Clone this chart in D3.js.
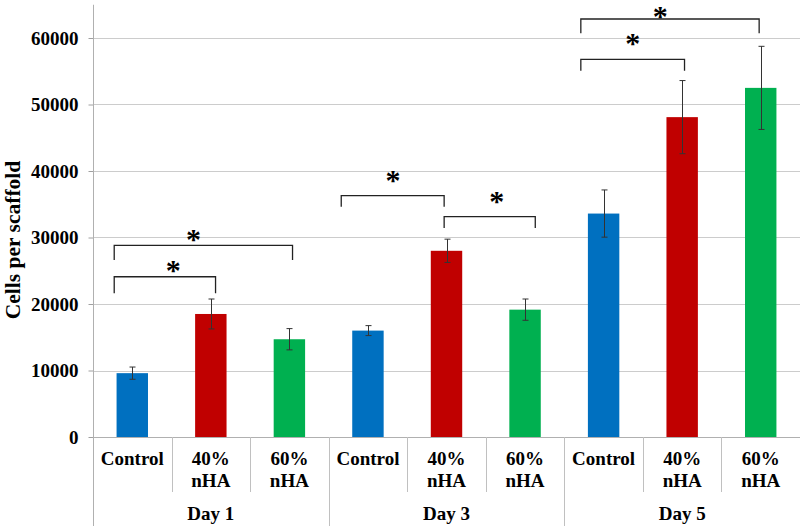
<!DOCTYPE html>
<html><head><meta charset="utf-8">
<script src="https://cdn.jsdelivr.net/npm/d3@7"></script>
<style>
html,body{margin:0;padding:0;background:#fff;}
svg{display:block;}
</style></head>
<body>
<svg id="chart" width="800" height="526"></svg>
<script>
// ---- data ----
const groups = ["Day 1", "Day 3", "Day 5"];
const treatments = ["Control", "40%\nnHA", "60%\nnHA"];
const colors = ["#0070C0", "#C00000", "#00B050"];
const values = [9600, 18500, 14700, 16000, 28000, 19150, 33600, 48100, 52500];
const errors = [920, 2250, 1600, 750, 1750, 1600, 3550, 5500, 6250];
const yTicks = [0, 10000, 20000, 30000, 40000, 50000, 60000];
// significance brackets: positions in category units (0..9) and values in cells
const bracketFrom = [0.27, 0.27, 3.16, 4.47, 6.21, 6.21];
const bracketTo   = [1.56, 2.54, 4.47, 5.63, 7.53, 8.48];
const bracketTop  = [24100, 28830, 36290, 33130, 56800, 62860];
const bracketLeg  = [21600, 26620, 34630, 31430, 55080, 60700];
const starX       = [1.02, 1.28, 3.82, 5.14, 6.87, 7.22];
const starY       = [25860, 30530, 39400, 36290, 60000, 64000];

// ---- layout ----
const FONT = "'Liberation Serif', Tinos, 'Times New Roman', Times, 'DejaVu Serif', 'Noto Serif', serif";
const svg = d3.select("#chart");
const mLeft = 93, mRight = 800, mBottom = 437, mTop = 4.75;
const n = values.length;
const bars = d3.range(n).map(i => ({i, v: values[i], e: errors[i], g: Math.floor(i / 3), t: i % 3}));

const x = d3.scaleBand().domain(d3.range(n)).range([mLeft, mRight]).paddingInner(0.6).paddingOuter(0.3);
const xp = d3.scaleLinear().domain([0, n]).range([mLeft, mRight]);
const y = d3.scaleLinear().domain([0, 65000]).range([mBottom, mTop]);

function label(sel) {
  return sel.attr("font-family", FONT).attr("font-weight", "bold").attr("fill", "#000");
}

// gridlines
svg.append("g").selectAll("line").data(yTicks.filter(d => d > 0)).join("line")
  .attr("x1", mLeft).attr("x2", mRight)
  .attr("y1", d => Math.round(y(d)) + 0.5).attr("y2", d => Math.round(y(d)) + 0.5)
  .attr("stroke", "#cccccc").attr("stroke-width", 1);

// y axis
const yAxis = d3.axisLeft(y).tickValues(yTicks).tickSize(5).tickPadding(10).tickFormat(d3.format("d"));
const ga = svg.append("g").attr("transform", `translate(${mLeft + 0.5},0)`).call(yAxis);
ga.attr("font-family", FONT).attr("font-size", 19).attr("font-weight", "bold");
ga.select(".domain").remove();
ga.selectAll(".tick line").attr("stroke", "#a0a0a0");
ga.selectAll(".tick text").attr("fill", "#000").attr("dy", "0.34em");
// vertical axis line (extends to bottom)
svg.append("line").attr("x1", mLeft + 0.5).attr("x2", mLeft + 0.5).attr("y1", mTop).attr("y2", 526)
  .attr("stroke", "#b0b0b0");
// baseline
svg.append("line").attr("x1", mLeft).attr("x2", mRight).attr("y1", mBottom + 0.5).attr("y2", mBottom + 0.5)
  .attr("stroke", "#b0b0b0");

// category separators
svg.append("g").selectAll("line").data(d3.range(1, n)).join("line")
  .attr("x1", d => Math.round(xp(d)) + 0.5).attr("x2", d => Math.round(xp(d)) + 0.5)
  .attr("y1", mBottom).attr("y2", d => d % 3 === 0 ? 526 : 492)
  .attr("stroke", "#c0c0c0");

// bars
svg.append("g").selectAll("rect").data(bars).join("rect")
  .attr("x", d => x(d.i)).attr("width", x.bandwidth())
  .attr("y", d => y(d.v)).attr("height", d => y(0) - y(d.v))
  .attr("fill", d => colors[d.t]);

// error bars
const eg = svg.append("g").attr("stroke", "#333").attr("stroke-width", 1);
bars.forEach(d => {
  const cx = Math.round(x(d.i) + x.bandwidth() / 2) + 0.5;
  eg.append("line").attr("x1", cx).attr("x2", cx).attr("y1", y(d.v + d.e)).attr("y2", y(d.v - d.e));
  [d.v + d.e, d.v - d.e].forEach(v => {
    eg.append("line").attr("x1", cx - 3).attr("x2", cx + 3).attr("y1", y(v)).attr("y2", y(v));
  });
});

// category labels
bars.forEach(d => {
  const cx = x(d.i) + x.bandwidth() / 2;
  const lines = treatments[d.t].split("\n");
  lines.forEach((l, k) => {
    label(svg.append("text")).attr("x", cx).attr("y", 465 + k * 21.5).attr("text-anchor", "middle")
      .attr("font-size", 19).text(l);
  });
});
// group labels
groups.forEach((g, k) => {
  label(svg.append("text")).attr("x", xp(k * 3 + 1.5)).attr("y", 520).attr("text-anchor", "middle")
    .attr("font-size", 19).text(g);
});

// y title
label(svg.append("text")).attr("transform", `translate(19.5,240) rotate(-90)`).attr("text-anchor", "middle")
  .attr("font-size", 21.5).text("Cells per scaffold");

// brackets
const bg = svg.append("g").attr("fill", "none").attr("stroke", "#222").attr("stroke-width", 1.3);
bracketFrom.forEach((f, k) => {
  const x1 = xp(f), x2 = xp(bracketTo[k]);
  const yt = y(bracketTop[k]), yl = y(bracketLeg[k]);
  bg.append("path").attr("d", `M${x1},${yl}V${yt}H${x2}V${yl}`);
  label(svg.append("text")).attr("x", xp(starX[k])).attr("y", y(starY[k]) + 15).attr("text-anchor", "middle")
    .attr("font-size", 30).text("*");
});
</script>
</body></html>
